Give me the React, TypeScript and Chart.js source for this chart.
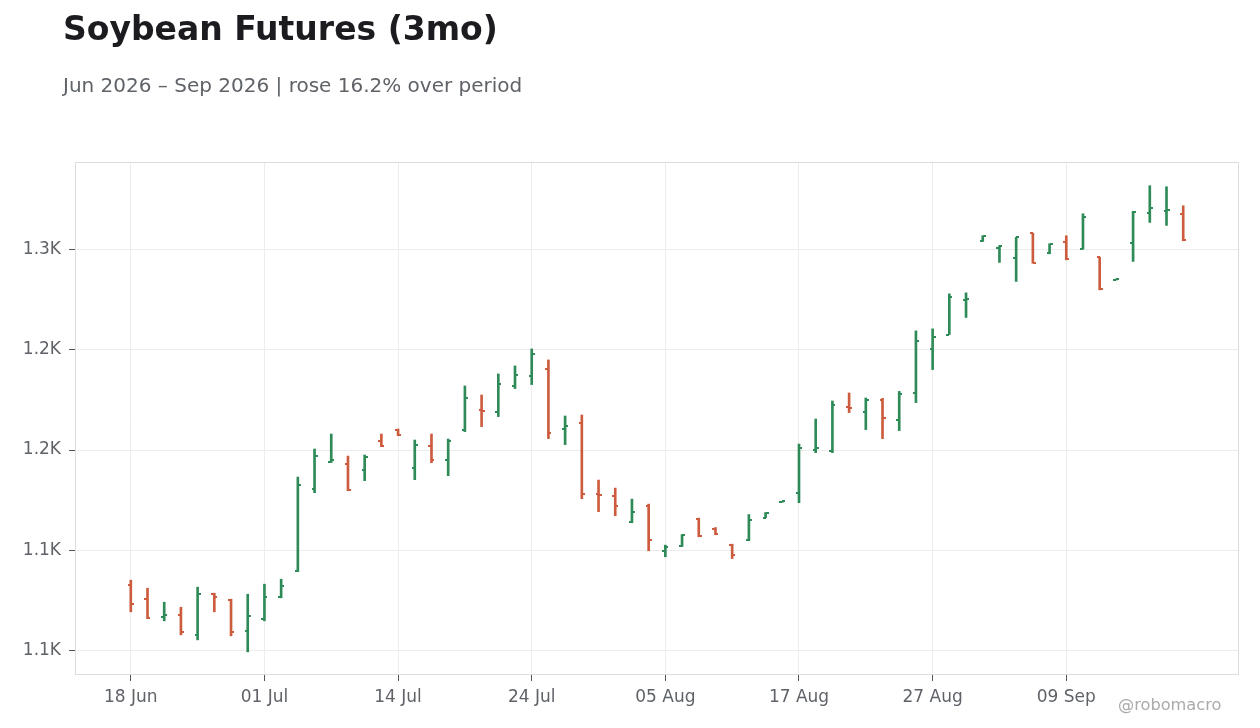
import { useEffect, useRef } from "react"
import { Chart, registerables, type ChartConfiguration, type Plugin } from "chart.js"

Chart.register(...registerables)

// trading days, 18 Jun 2026 - 18 Sep 2026
const dates = [
  "18 Jun", "22 Jun", "23 Jun", "24 Jun", "25 Jun", "26 Jun", "29 Jun", "30 Jun",
  "01 Jul", "02 Jul", "06 Jul", "07 Jul", "08 Jul", "09 Jul", "10 Jul", "13 Jul",
  "14 Jul", "15 Jul", "16 Jul", "17 Jul", "20 Jul", "21 Jul", "22 Jul", "23 Jul",
  "24 Jul", "27 Jul", "28 Jul", "29 Jul", "30 Jul", "31 Jul", "03 Aug", "04 Aug",
  "05 Aug", "06 Aug", "07 Aug", "10 Aug", "11 Aug", "12 Aug", "13 Aug", "14 Aug",
  "17 Aug", "18 Aug", "19 Aug", "20 Aug", "21 Aug", "24 Aug", "25 Aug", "26 Aug",
  "27 Aug", "28 Aug", "31 Aug", "01 Sep", "02 Sep", "03 Sep", "04 Sep", "08 Sep",
  "09 Sep", "10 Sep", "11 Sep", "14 Sep", "15 Sep", "16 Sep", "17 Sep", "18 Sep",
]

const opens = [
  1132.7, 1125.7, 1116.7, 1117.7, 1107.7, 1128.2, 1125.2, 1109.5, 1115.5, 1126.7,
  1139.7, 1180.7, 1194.2, 1193.2, 1190.2, 1204.7, 1210.2, 1191.2, 1202.2, 1195.2,
  1210.2, 1220.2, 1219.2, 1232.2, 1237.2, 1240.7, 1210.7, 1213.7, 1178.2, 1177.2,
  1164.2, 1172.2, 1149.7, 1152.2, 1165.7, 1160.7, 1152.7, 1155.2, 1166.2, 1174.0,
  1178.7, 1200.2, 1199.7, 1221.5, 1219.2, 1225.2, 1215.2, 1228.7, 1250.7, 1257.7,
  1274.7, 1304.2, 1300.7, 1295.7, 1308.3, 1298.2, 1303.7, 1300.5, 1296.2, 1285.0,
  1303.2, 1318.2, 1319.5, 1317.7,
]
const highs = [
  1135.0, 1131.0, 1124.0, 1121.5, 1131.5, 1128.5, 1125.5, 1128.0, 1133.0, 1135.5,
  1186.5, 1200.5, 1208.0, 1197.0, 1197.5, 1208.0, 1210.5, 1205.0, 1208.0, 1205.5,
  1232.0, 1227.5, 1238.0, 1242.0, 1250.5, 1245.0, 1217.0, 1217.5, 1185.0, 1181.0,
  1175.5, 1173.0, 1152.5, 1157.8, 1166.0, 1161.3, 1153.0, 1167.8, 1168.8, 1174.4,
  1203.0, 1215.5, 1224.5, 1228.5, 1226.0, 1225.8, 1229.3, 1259.5, 1260.5, 1278.0,
  1278.5, 1307.0, 1302.0, 1306.2, 1308.3, 1303.0, 1307.0, 1318.0, 1296.3, 1285.4,
  1319.2, 1332.0, 1331.5, 1322.0,
]
const lows = [
  1119.2, 1115.8, 1114.7, 1107.7, 1105.2, 1119.2, 1107.2, 1099.2, 1114.7, 1126.2,
  1139.3, 1178.7, 1193.8, 1179.7, 1184.7, 1201.7, 1207.2, 1185.2, 1193.7, 1187.2,
  1209.2, 1211.7, 1216.7, 1230.7, 1232.7, 1205.7, 1202.7, 1175.7, 1169.2, 1167.2,
  1163.7, 1149.7, 1146.7, 1151.8, 1156.7, 1157.7, 1145.8, 1154.7, 1166.2, 1173.9,
  1173.7, 1198.7, 1198.7, 1218.7, 1210.2, 1205.7, 1209.7, 1223.7, 1240.2, 1257.7,
  1266.2, 1304.2, 1293.7, 1284.2, 1293.3, 1298.0, 1295.0, 1300.3, 1280.0, 1284.9,
  1294.2, 1313.7, 1312.2, 1304.5,
]
const closes = [
  1123.0, 1116.2, 1117.7, 1109.0, 1128.2, 1126.7, 1109.0, 1117.2, 1126.7, 1132.2,
  1182.7, 1197.2, 1195.2, 1180.0, 1196.7, 1202.0, 1207.5, 1202.7, 1195.2, 1204.7,
  1226.2, 1219.7, 1233.2, 1237.7, 1248.2, 1208.7, 1212.2, 1178.2, 1177.7, 1172.2,
  1169.2, 1155.2, 1151.8, 1157.7, 1156.9, 1158.2, 1147.7, 1165.2, 1168.7, 1174.3,
  1201.2, 1201.2, 1222.7, 1220.9, 1225.2, 1216.2, 1228.2, 1254.7, 1256.7, 1276.2,
  1275.2, 1306.8, 1301.7, 1306.2, 1293.5, 1302.7, 1295.2, 1316.2, 1280.2, 1285.3,
  1318.7, 1320.7, 1319.8, 1304.7,
]

const xTickIdx = [0, 8, 16, 24, 32, 40, 48, 56]
const yTicks = [1100, 1150, 1200, 1250, 1300]
const yTickLabels = ["1.1K", "1.1K", "1.2K", "1.2K", "1.3K"]

const UP = "#2e8b57"
const DOWN = "#cc5c3d"
const TEXT = "#5f6368"
const FONT = "'DejaVu Sans', sans-serif"

const barColor = (i: number) => (closes[i] >= opens[i] ? UP : DOWN)

// open tick on the left, close tick on the right
const ohlcTicks: Plugin = {
  id: "ohlcTicks",
  afterDatasetsDraw(chart) {
    const { ctx, scales } = chart
    ctx.save()
    opens.forEach((o, i) => {
      const px = Math.round(scales.x.getPixelForValue(i))
      ctx.fillStyle = barColor(i)
      ctx.fillRect(px - 3, Math.round(scales.y.getPixelForValue(o)) - 1, 3, 2)
      ctx.fillRect(px, Math.round(scales.y.getPixelForValue(closes[i])) - 1, 3, 2)
    })
    ctx.restore()
  },
}

const frame: Plugin = {
  id: "frame",
  beforeDatasetsDraw(chart) {
    const { ctx, chartArea } = chart
    ctx.save()
    ctx.strokeStyle = "#dddddd"
    ctx.lineWidth = 1
    ctx.strokeRect(chartArea.left + 0.5, chartArea.top + 0.5, chartArea.width - 1, chartArea.height - 1)
    ctx.restore()
  },
}

export default function App() {
  const canvasRef = useRef<HTMLCanvasElement>(null)
  const chartRef = useRef<Chart | null>(null)

  useEffect(() => {
    if (!canvasRef.current) return
    if (chartRef.current) chartRef.current.destroy()

    const config: ChartConfiguration = {
      type: "bar",
      data: {
        datasets: [
          {
            label: "Soybean",
            data: lows.map((l, i) => ({ x: i, y: [l, highs[i]] })) as any,
            backgroundColor: opens.map((_, i) => barColor(i)),
            barThickness: 2,
            borderWidth: 0,
            grouped: false,
          },
        ],
      },
      options: {
        animation: false,
        responsive: true,
        maintainAspectRatio: false,
        layout: { padding: { top: 162, right: 21, left: 0, bottom: 0 } },
        plugins: {
          legend: { display: false },
          tooltip: { enabled: false },
        },
        scales: {
          x: {
            type: "linear",
            min: -3.34,
            max: 66.34,
            offset: false,
            afterFit: (s) => {
              s.height = 53
            },
            afterBuildTicks: (s) => {
              s.ticks = xTickIdx.map((v) => ({ value: v }))
            },
            ticks: {
              autoSkip: false,
              maxRotation: 0,
              padding: 6,
              color: TEXT,
              font: { family: FONT, size: 17 },
              callback: (v) => dates[Number(v)] ?? "",
            },
            grid: { offset: false, color: "#ececec", tickColor: "#555555", tickLength: 6, lineWidth: 1 },
            border: { display: false },
          },
          y: {
            type: "linear",
            min: 1087.65,
            max: 1343.85,
            afterFit: (s) => {
              s.width = 75
            },
            afterBuildTicks: (s) => {
              s.ticks = yTicks.map((v) => ({ value: v }))
            },
            ticks: {
              padding: 8,
              color: TEXT,
              font: { family: FONT, size: 17 },
              callback: (v) => yTickLabels[yTicks.indexOf(Number(v))] ?? "",
            },
            grid: { color: "#ececec", tickColor: "#555555", tickLength: 6, lineWidth: 1 },
            border: { display: false },
          },
        },
      },
      plugins: [frame, ohlcTicks],
    }

    chartRef.current = new Chart(canvasRef.current, config)

    return () => {
      if (chartRef.current) {
        chartRef.current.destroy()
        chartRef.current = null
      }
    }
  }, [])

  return (
    <div style={{ position: "fixed", left: 0, top: 0, width: 1260, height: 728, background: "#fff", fontFamily: FONT }}>
      <canvas ref={canvasRef} style={{ position: "absolute", left: 0, top: 0 }}></canvas>
      <div style={{ position: "absolute", left: 63, top: 12, fontSize: 33, lineHeight: "33px", fontWeight: "bold", color: "#1b1b20", whiteSpace: "nowrap" }}>
        Soybean Futures (3mo)
      </div>
      <div style={{ position: "absolute", left: 63, top: 75, fontSize: 20, lineHeight: "20px", color: TEXT, whiteSpace: "nowrap" }}>
        Jun 2026 – Sep 2026 | rose 16.2% over period
      </div>
      <div style={{ position: "absolute", left: 1118, top: 696.5, fontSize: 16.2, lineHeight: "16px", color: "#aaaaaa", whiteSpace: "nowrap" }}>
        @robomacro
      </div>
    </div>
  )
}
